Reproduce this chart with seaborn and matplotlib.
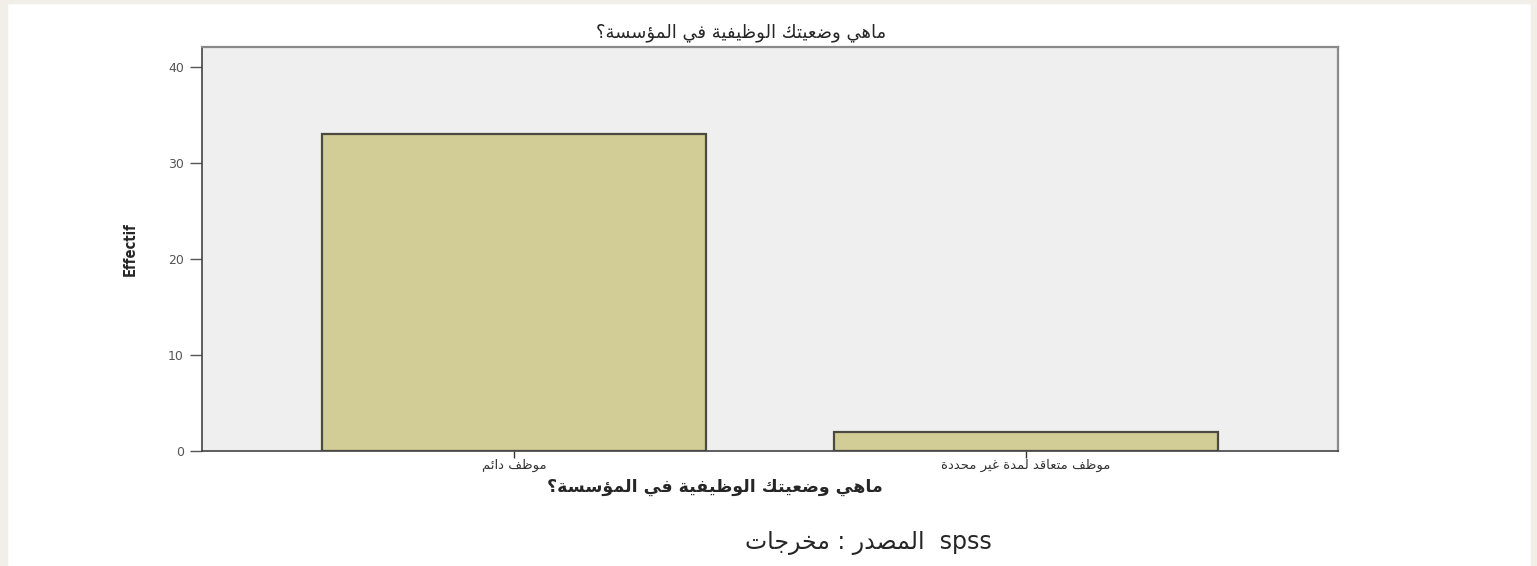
import unicodedata
import matplotlib
matplotlib.use("Agg")
import matplotlib.pyplot as plt
from matplotlib.patches import Rectangle
import seaborn as sns

# data
categories = ["موظف دائم", "موظف متعاقد لمدة غير محددة"]
counts = [33, 2]
yticks = [0, 10, 20, 30, 40]
question = "ماهي وضعيتك الوظيفية في المؤسسة؟"
ylabel = "Effectif"
source = "المصدر : مخرجات"

# matplotlib has no arabic shaping/bidi -> do a small one by hand
RIGHT_ONLY = set("اأإآدذرزوؤةى")

def is_ar(c):
    return "\u0621" <= c <= "\u064a" and c != "ء"

def ar(text):
    out = []
    for i, c in enumerate(text):
        if not is_ar(c):
            out.append(c)
            continue
        prev = text[i - 1] if i > 0 else ""
        nxt = text[i + 1] if i < len(text) - 1 else ""
        lp = prev != "" and is_ar(prev) and prev not in RIGHT_ONLY
        ln = nxt != "" and is_ar(nxt) and c not in RIGHT_ONLY
        form = {(False, False): "ISOLATED", (True, False): "FINAL",
                (False, True): "INITIAL", (True, True): "MEDIAL"}[(lp, ln)]
        try:
            out.append(unicodedata.lookup(unicodedata.name(c) + " " + form + " FORM"))
        except KeyError:
            out.append(c)
    return "".join(out[::-1])

sns.set_style("white")
plt.rcParams["font.family"] = ["DejaVu Sans"]

fig = plt.figure(figsize=(15.37, 5.66), dpi=100)
ax = fig.add_axes([202 / 1537, 1 - 451 / 566, 1136 / 1537, 404 / 566])
ax.set_facecolor("#efefef")

sns.barplot(x=[ar(c) for c in categories], y=counts, color="#d2cd96", saturation=1,
            edgecolor="#4a4a40", linewidth=1.6, width=0.75, ax=ax)

ax.set_xlim(-0.609, 1.609)
ax.set_ylim(0, 42.1)
ax.set_yticks(yticks)
ax.tick_params(axis="y", length=9, width=1, color="#555555", labelcolor="#555555",
               labelsize=9, left=True, pad=4)
ax.tick_params(axis="x", length=5, width=1, color="#333333", labelcolor="#333333",
               labelsize=9.5, bottom=True, pad=1)
ax.set_xlabel("")
ax.set_ylabel(ylabel, fontsize=10.5, fontweight="bold", fontstretch="condensed",
              labelpad=22)
for s in ["left", "bottom"]:
    ax.spines[s].set_color("#444444")
    ax.spines[s].set_linewidth(1.2)
for s in ["top", "right"]:
    ax.spines[s].set_color("#8a8a8a")
    ax.spines[s].set_linewidth(1.6)
    ax.spines[s].set_visible(True)

fig.text(741 / 1537, 1 - 33 / 566, ar(question), ha="center", va="center", fontsize=13)
fig.text(715 / 1537, 1 - 487 / 566, ar(question), ha="center", va="center",
         fontsize=12.5, fontweight="bold")
# LTR paragraph: the arabic run first, then spss on its right
fig.text(868 / 1537, 1 - 543 / 566, ar(source) + "  spss",
         ha="center", va="center", fontsize=17)

# beige page edges of the screenshot
fig.add_artist(Rectangle((0, 0), 7 / 1537, 1, transform=fig.transFigure,
                         color="#f2eee8", zorder=-1))
fig.add_artist(Rectangle((1531 / 1537, 0), 6 / 1537, 1, transform=fig.transFigure,
                         color="#f2eee8", zorder=-1))
fig.add_artist(Rectangle((0, 1 - 3 / 566), 1, 3 / 566, transform=fig.transFigure,
                         color="#f2eee8", zorder=-1))

fig.savefig("out.png", dpi=100)
